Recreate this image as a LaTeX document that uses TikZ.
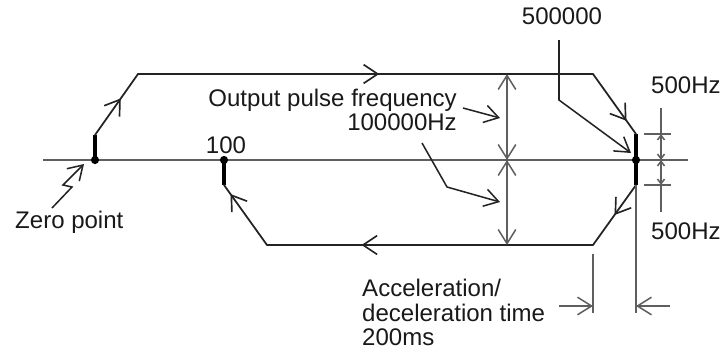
\documentclass[tikz,border=0pt]{standalone}
\usepackage{fontspec}
\setmainfont{Liberation Sans}
\usepackage{xcolor}
\usetikzlibrary{positioning, arrows.meta, decorations.markings}
\definecolor{PathBlack}{RGB}{35,35,35}
\definecolor{DimGray}{RGB}{95,95,95}
\tikzset{
  route/.style={line width=1.5pt, draw=PathBlack, line cap=round},
  startseg/.style={line width=2.8pt, draw=black},
  dimline/.style={line width=1.3pt, draw=DimGray},
  leader/.style={line width=1.3pt, draw=PathBlack, -{Straight Barb[length=12pt,width=15pt]}},
  dimarrow/.style={dimline, {Straight Barb[length=12pt,width=15pt]}-{Straight Barb[length=12pt,width=15pt]}},
  smallarrow/.style={dimline, {Straight Barb[length=4pt,width=6pt]}-{Straight Barb[length=4pt,width=6pt]}},
  flowmark/.style={postaction={decorate}, decoration={markings,
    mark=at position #1 with {\arrow[line width=1.4pt]{Straight Barb[length=12pt,width=16pt]}}}},
  lbl/.style={font=\fontsize{20.5}{21}\selectfont, inner sep=0pt, text=black!90},
  pdot/.style={circle, fill=black, inner sep=0pt, minimum size=7pt},
}

\begin{document}
\begin{tikzpicture}[x=0.03cm, y=-0.03cm]
  \useasboundingbox (0,0) rectangle (726,351);
  % points of the travel
  \coordinate (Z1) at (95,135);
  \coordinate (T1) at (138,74);
  \coordinate (T2) at (593,74);
  \coordinate (R1) at (636,134);
  \coordinate (R2) at (636,185);
  \coordinate (B1) at (593,245);
  \coordinate (B2) at (267,245);
  \coordinate (L1) at (224,185);
  \coordinate (AxL) at (43,160);
  \coordinate (AxR) at (688,160);

  \draw[dimline] (AxL) -- (AxR);

  \node[pdot] (zdot) at (95,160) {};
  \node[pdot] (hdot) at (224,160) {};
  \node[pdot] (edot) at (636,160) {};

  \draw[startseg] (zdot.center) -- (Z1);
  \draw[startseg] (R1) -- (R2);
  \draw[startseg] (hdot.center) -- (L1);
  \foreach \a/\b/\p in {Z1/T1/0.6, T1/T2/0.53, T2/R1/0.78, R2/B1/0.5, B1/B2/0.71, B2/L1/0.85}
    \draw[route, flowmark=\p] (\a) -- (\b);

  % frequency dimension
  \coordinate (V1) at (507,74);
  \coordinate (V0) at (507,160);
  \coordinate (V2) at (507,245);
  \draw[dimarrow] (V1) -- (V0);
  \draw[dimarrow] (V0) -- (V2);

  % start speed dimension
  \coordinate (S1) at (661,108);
  \coordinate (S2) at (661,212);
  \coordinate (S0) at (661,160);
  \coordinate (Sa) at (661,134);
  \coordinate (Sb) at (661,185);
  \draw[dimline] (S1) -- (S2);
  \draw[dimline] (644,134) coordinate (Ta) -- (671,134) coordinate (Tb);
  \draw[dimline] (644,185) coordinate (Tc) -- (671,185) coordinate (Td);
  \draw[smallarrow] (Sa) -- (S0);
  \draw[smallarrow] (S0) -- (Sb);

  % acceleration time dimension
  \coordinate (D1) at (593,254);
  \coordinate (D2) at (593,313);
  \coordinate (D3) at (636,313);
  \coordinate (Da) at (559,306);
  \coordinate (Db) at (593,306);
  \coordinate (Dc) at (670,306);
  \coordinate (Dd) at (636,306);
  \draw[dimline] (D1) -- (D2);
  \draw[dimline] (R2) -- (D3);
  \draw[leader, draw=DimGray] (Da) -- (Db);
  \draw[leader, draw=DimGray] (Dc) -- (Dd);

  % labels
  \node[lbl, align=right, anchor=east] (freq) at (457,110) {Output pulse frequency\\100000Hz};
  \node[lbl] (hundred) at (226,145) {100};
  \node[lbl] (top) at (562,16) {500000};
  \node[lbl, anchor=west] (hzup) at (651,85) {500Hz};
  \node[lbl, anchor=west] (hzdn) at (651,231) {500Hz};
  \node[lbl, anchor=west] (zero) at (15,222) {Zero point};
  \node[lbl, align=left, anchor=north west] (acc) at (362,279) {Acceleration/\\deceleration time\\200ms};

  % leaders
  \coordinate (Fa) at (463,108);
  \coordinate (Fb) at (500,118);
  \coordinate (Fc) at (422,143);
  \coordinate (Fd) at (447,187);
  \coordinate (Fe) at (500,202);
  \draw[leader] (Fa) -- (Fb);
  \draw[leader] (Fc) -- (Fd) -- (Fe);
  \coordinate (Pa) at (559,40);
  \coordinate (Pb) at (559,100);
  \coordinate (Pc) at (631,153);
  \draw[leader] (Pa) -- (Pb) -- (Pc);
  \coordinate (Za) at (52,208);
  \coordinate (Zb) at (72,187);
  \coordinate (Zc) at (63,185);
  \coordinate (Zd) at (84,164);
  \draw[leader] (Za) -- (Zb) -- (Zc) -- (Zd);
\end{tikzpicture}
\end{document}
